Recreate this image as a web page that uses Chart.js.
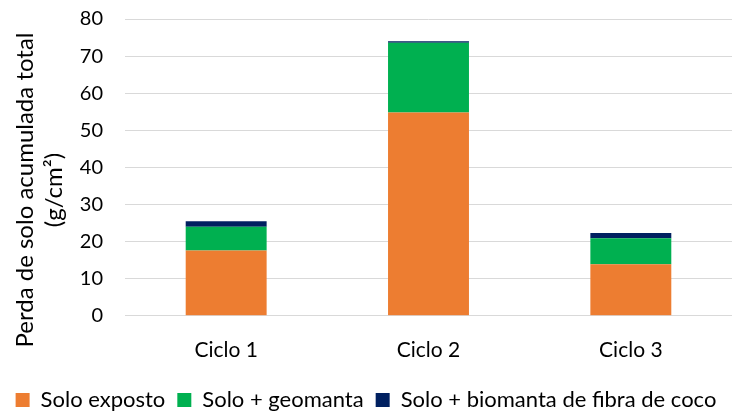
<!DOCTYPE html>
<html>
<head>
<meta charset="utf-8">
<script src="https://cdn.jsdelivr.net/npm/chart.js@4/dist/chart.umd.min.js"></script>
<style>
    html, body { margin: 0; padding: 0; background: #fff; }
    #wrap { width: 732px; height: 412px; position: relative; }
</style>
</head>
<body>
<div id="wrap"><canvas id="perdaChart"></canvas></div>
<script>
const ciclos = ["Ciclo 1", "Ciclo 2", "Ciclo 3"];
const soloExposto = [17.6, 54.8, 13.9];
const soloGeomanta = [6.4, 18.8, 7.0];
const soloBiomanta = [1.5, 0.4, 1.4];
const yTitle = ["Perda de solo acumulada total", "(g/cm²)"];

const fontFamily = "Lato, 'Open Sans', sans-serif";

// the axis title sits a bit lower than the plot centre in the original,
// so it is drawn here instead of through scales.y.title
const yTitlePlugin = {
    id: "yTitle",
    afterDraw(chart) {
        const c = chart.ctx;
        const centerY = 190;
        c.save();
        c.fillStyle = "#000";
        c.font = "24px " + fontFamily;
        c.textAlign = "center";
        c.textBaseline = "alphabetic";
        yTitle.forEach((line, i) => {
            c.save();
            c.translate(33 + i * 29, centerY);
            c.rotate(-Math.PI / 2);
            c.fillText(line, 0, 0);
            c.restore();
        });
        c.restore();
    }
};

const ctx = document.getElementById("perdaChart").getContext("2d");

new Chart(ctx, {
    type: "bar",
    data: {
        labels: ciclos,
        datasets: [{
            label: "Solo exposto",
            data: soloExposto,
            backgroundColor: "#ED7D31"
        }, {
            label: "Solo + geomanta",
            data: soloGeomanta,
            backgroundColor: "#00B050"
        }, {
            label: "Solo + biomanta de fibra de coco",
            data: soloBiomanta,
            backgroundColor: "#002060"
        }]
    },
    plugins: [yTitlePlugin],
    options: {
        responsive: true,
        maintainAspectRatio: false,
        animation: false,
        datasets: {
            bar: {
                categoryPercentage: 1,
                barPercentage: 0.4
            }
        },
        layout: {
            padding: { top: 19, right: 0, bottom: -9, left: 0 }
        },
        plugins: {
            legend: {
                position: "bottom",
                labels: {
                    color: "#000",
                    boxWidth: 14,
                    boxHeight: 14,
                    padding: 12,
                    font: { family: fontFamily, size: 22 }
                }
            },
            tooltip: { enabled: false }
        },
        scales: {
            x: {
                stacked: true,
                grid: { display: false },
                border: { color: "#d9d9d9" },
                ticks: {
                    color: "#000",
                    padding: 14,
                    font: { family: fontFamily, size: 21 }
                }
            },
            y: {
                stacked: true,
                min: 0,
                max: 80,
                afterFit(scale) {
                    // keep the axis width fixed and drop the tick padding above/below
                    scale.width = 125;
                    scale.paddingTop = 0;
                    scale.paddingBottom = 0;
                },
                grid: {
                    color: "#d9d9d9",
                    drawTicks: false
                },
                border: { display: false },
                ticks: {
                    stepSize: 10,
                    color: "#000",
                    padding: 22,
                    font: { family: fontFamily, size: 20 }
                }
            }
        }
    }
});
</script>
</body>
</html>
